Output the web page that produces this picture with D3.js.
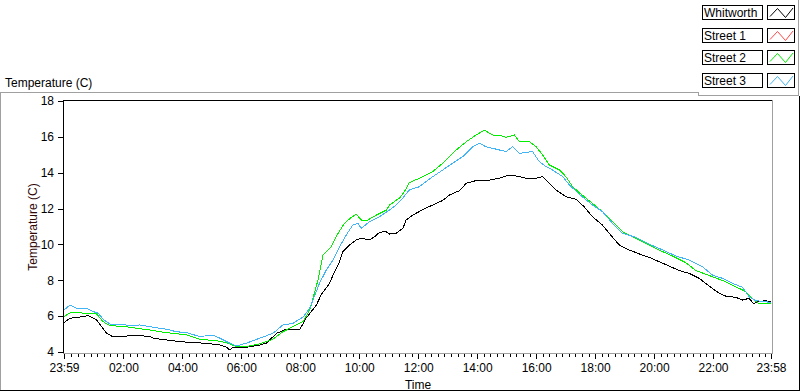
<!DOCTYPE html>
<html><head><meta charset="utf-8">
<script src="https://cdn.jsdelivr.net/npm/d3@7"></script>
<style>body{margin:0;background:#fff;}svg{display:block;font-family:"Liberation Sans",Arial,sans-serif;}</style>
</head><body>
<script>
// ---- data ----
const timeStart = -1/60, timeEnd = 23 + 58/60;   // 23:59 .. 23:58 (hours from midnight)
const yTicks = [4, 6, 8, 10, 12, 14, 16, 18];
const xTickHours = [timeStart, 2, 4, 6, 8, 10, 12, 14, 16, 18, 20, 22, timeEnd];
const xTickLabels = ["23:59","02:00","04:00","06:00","08:00","10:00","12:00","14:00","16:00","18:00","20:00","22:00","23:58"];
const seriesNames = ["Whitworth", "Street 1", "Street 2", "Street 3"];
const seriesColors = ["#000000", "#ff4848", "#00f000", "#40b4f4"];

const whitworth = [[-0.02,5.64],[0.19,5.88],[0.52,5.95],[0.81,6.03],[1.09,5.79],[1.26,5.41],[1.43,5.04],[1.60,4.89],[2.11,4.89],[2.39,4.92],[2.66,4.90],[2.90,4.86],[3.01,4.77],[3.46,4.67],[3.91,4.58],[4.36,4.52],[4.82,4.49],[5.27,4.39],[5.50,4.26],[5.61,4.11],[5.72,4.26],[6.17,4.26],[6.62,4.39],[6.85,4.49],[7.19,5.04],[7.53,5.27],[7.87,5.27],[7.98,5.25],[8.20,5.90],[8.54,6.60],[8.71,7.20],[8.99,7.83],[9.16,8.48],[9.33,9.04],[9.44,9.60],[9.67,9.97],[9.90,10.25],[10.07,10.34],[10.35,10.25],[10.52,10.43],[10.69,10.68],[10.91,10.71],[11.03,10.58],[11.25,10.62],[11.48,10.90],[11.59,11.36],[11.82,11.64],[12.15,11.94],[12.49,12.20],[12.83,12.45],[13.06,12.76],[13.40,13.00],[13.63,13.41],[13.96,13.56],[14.41,13.59],[14.75,13.69],[14.98,13.82],[15.32,13.82],[15.66,13.69],[16.00,13.69],[16.22,13.78],[16.45,13.41],[16.67,13.04],[17.01,12.66],[17.35,12.52],[17.63,12.10],[17.91,11.55],[18.25,11.08],[18.59,10.40],[18.82,9.97],[19.16,9.69],[19.50,9.47],[19.83,9.28],[20.17,9.04],[20.51,8.80],[20.85,8.54],[21.19,8.39],[21.53,8.11],[21.75,7.83],[21.98,7.55],[22.21,7.27],[22.43,7.12],[22.77,7.05],[23.00,6.90],[23.22,6.99],[23.39,6.68],[23.50,6.81],[23.79,6.86],[23.95,6.81]];
const street1 = [];
const street2 = [[-0.02,5.97],[0.19,6.19],[0.52,6.19],[0.86,6.12],[1.09,6.12],[1.31,5.69],[1.54,5.47],[2.11,5.41],[2.45,5.32],[2.90,5.23],[3.24,5.13],[3.69,5.04],[4.14,4.95],[4.59,4.71],[5.16,4.63],[5.50,4.52],[5.83,4.30],[6.17,4.30],[6.62,4.45],[7.07,4.71],[7.41,5.13],[7.75,5.41],[8.09,5.69],[8.20,6.00],[8.32,6.34],[8.43,7.00],[8.60,8.02],[8.77,9.41],[9.05,9.87],[9.28,10.62],[9.50,11.18],[9.73,11.51],[9.90,11.68],[10.07,11.36],[10.29,11.36],[10.58,11.64],[10.92,11.92],[11.03,12.20],[11.37,12.60],[11.53,12.94],[11.70,13.45],[12.04,13.69],[12.49,14.06],[12.83,14.53],[13.29,15.27],[13.63,15.73],[13.96,16.10],[14.24,16.38],[14.53,16.10],[14.75,16.10],[14.98,15.98],[15.26,16.10],[15.43,15.73],[15.77,15.73],[16.00,15.45],[16.22,14.99],[16.45,14.43],[16.79,14.15],[17.01,13.78],[17.24,13.22],[17.46,12.89],[17.91,12.29],[18.25,11.83],[18.59,11.27],[18.93,10.71],[19.27,10.43],[19.72,10.06],[20.17,9.69],[20.62,9.36],[21.08,8.98],[21.42,8.54],[21.98,8.20],[22.43,7.92],[22.77,7.64],[23.11,7.37],[23.33,7.00],[23.56,6.68],[23.95,6.68]];
const street3 = [[-0.02,6.34],[0.19,6.62],[0.41,6.44],[0.75,6.44],[0.98,6.25],[1.15,6.16],[1.31,5.82],[1.54,5.56],[1.88,5.55],[2.33,5.45],[2.56,5.51],[3.01,5.38],[3.46,5.27],[3.80,5.13],[4.14,5.08],[4.59,4.86],[5.04,4.95],[5.27,4.77],[5.61,4.49],[5.83,4.34],[6.17,4.49],[6.62,4.77],[7.07,5.04],[7.41,5.51],[7.75,5.60],[8.09,5.95],[8.32,6.44],[8.43,6.90],[8.65,7.83],[8.88,8.57],[9.11,9.13],[9.33,9.87],[9.56,10.53],[9.78,11.08],[9.95,11.18],[10.07,10.90],[10.35,11.27],[10.69,11.55],[11.03,11.92],[11.25,12.20],[11.48,12.60],[11.70,13.04],[12.04,13.22],[12.49,13.78],[12.83,14.15],[13.17,14.53],[13.51,14.90],[13.85,15.45],[14.07,15.64],[14.30,15.45],[14.53,15.36],[14.75,15.27],[14.98,15.18],[15.20,15.45],[15.43,15.08],[15.66,15.13],[15.88,15.18],[16.11,14.61],[16.34,14.34],[16.56,14.15],[16.90,13.78],[17.13,13.32],[17.46,12.80],[17.91,12.20],[18.25,11.83],[18.59,11.18],[18.93,10.62],[19.38,10.40],[19.72,10.10],[20.17,9.78],[20.73,9.36],[21.19,9.13],[21.64,8.76],[21.98,8.29],[22.32,8.11],[22.66,7.83],[23.00,7.61],[23.22,7.09],[23.45,6.86],[23.79,6.81],[23.95,6.75]];
const allSeries = [whitworth, street1, street2, street3];

// ---- drawing ----
const W = 800, H = 392;
const svg = d3.select("body").append("svg").attr("width", W).attr("height", H);
const x = d3.scaleLinear().domain([timeStart, timeEnd]).range([64, 771]);
const y = d3.scaleLinear().domain([4, 18]).range([352, 101]);
const gray = "#a0a0a0";

function seg(x1, y1, x2, y2, c) {
  svg.append("line").attr("x1", x1).attr("y1", y1).attr("x2", x2).attr("y2", y2)
    .attr("stroke", c).attr("stroke-width", 1).attr("shape-rendering", "crispEdges");
}
// outer panel
seg(0, 92.5, 698, 92.5, gray);
seg(698.5, 92, 698.5, 95.5, gray);
seg(698, 95.5, 798.5, 95.5, gray);
seg(798.5, 0, 798.5, 95.5, gray);
seg(0.5, 92, 0.5, 391, gray);
seg(0, 390.5, 800, 390.5, "#000");
seg(799.5, 96, 799.5, 391, "#000");

// title
svg.append("text").attr("x", 5).attr("y", 87).attr("font-size", 12).attr("fill", "#000").text("Temperature (C)");

// plot frame
seg(63, 100.5, 773, 100.5, "#000");
seg(63.5, 100, 63.5, 353, "#000");
seg(772.5, 100, 772.5, 354, gray);
seg(63, 353.5, 773, 353.5, gray);

// clip + lines
svg.append("clipPath").attr("id", "clip").append("rect").attr("x", 64).attr("y", 101).attr("width", 708).attr("height", 252);
const line = d3.line().x(d => x(d[0])).y(d => y(d[1]));
const gl = svg.append("g").attr("clip-path", "url(#clip)");
allSeries.forEach((s, i) => {
  if (!s.length) return;
  gl.append("path").datum(s).attr("d", line).attr("fill", "none")
    .attr("stroke", seriesColors[i]).attr("stroke-width", 1).attr("shape-rendering", "crispEdges");
});

// y axis
const ya = svg.append("g").attr("transform", "translate(63,0)")
  .call(d3.axisLeft(y).tickValues(yTicks).tickSize(5).tickPadding(4).tickFormat(d3.format("d")));
ya.select(".domain").remove();
ya.selectAll("line").attr("stroke", "#000").attr("shape-rendering", "crispEdges");
ya.selectAll("text").attr("font-size", 12).attr("font-family", "Liberation Sans, Arial, sans-serif").attr("fill", "#000");

// x axis minor ticks
const minor = d3.range(0, 24.001, 2/9).filter(h => h > timeStart && h <= timeEnd + 0.01 && Math.abs(h/2 - Math.round(h/2)) > 0.01);
const xm = svg.append("g").attr("transform", "translate(0,354)")
  .call(d3.axisBottom(x).tickValues(minor).tickSize(3).tickFormat(""));
xm.select(".domain").remove();
xm.selectAll("line").attr("stroke", "#000").attr("shape-rendering", "crispEdges");
// x axis major ticks
const xa = svg.append("g").attr("transform", "translate(0,354)")
  .call(d3.axisBottom(x).tickValues(xTickHours).tickSize(5).tickPadding(4).tickFormat((d, i) => xTickLabels[i]));
xa.select(".domain").remove();
xa.selectAll("line").attr("stroke", "#000").attr("shape-rendering", "crispEdges");
xa.selectAll("text").attr("font-size", 12).attr("font-family", "Liberation Sans, Arial, sans-serif").attr("fill", "#000");

// axis names
svg.append("text").attr("x", 418).attr("y", 389).attr("text-anchor", "middle").attr("font-size", 12).attr("fill", "#000").text("Time");
svg.append("text").attr("transform", "translate(37,227) rotate(-90)").attr("text-anchor", "middle")
  .attr("font-size", 12).attr("fill", "#300808").text("Temperature (C)");

// legend
seriesNames.forEach((name, i) => {
  const top = 5 + i * 22.7;
  const g = svg.append("g").attr("transform", `translate(0,${Math.round(top)})`);
  g.append("rect").attr("x", 702.5).attr("y", 0.5).attr("width", 60).attr("height", 14)
    .attr("fill", "#fff").attr("stroke", "#000").attr("shape-rendering", "crispEdges");
  g.append("text").attr("x", 704).attr("y", 12).attr("font-size", 12).attr("fill", "#000").text(name);
  g.append("rect").attr("x", 767.5).attr("y", 0.5).attr("width", 27).attr("height", 14)
    .attr("fill", "#fff").attr("stroke", "#000").attr("shape-rendering", "crispEdges");
  g.append("path").attr("d", "M770,11.5 L777.5,3.5 L785.5,12.5 L793,3")
    .attr("fill", "none").attr("stroke", seriesColors[i]).attr("stroke-width", 1);
});
</script>
</body></html>
